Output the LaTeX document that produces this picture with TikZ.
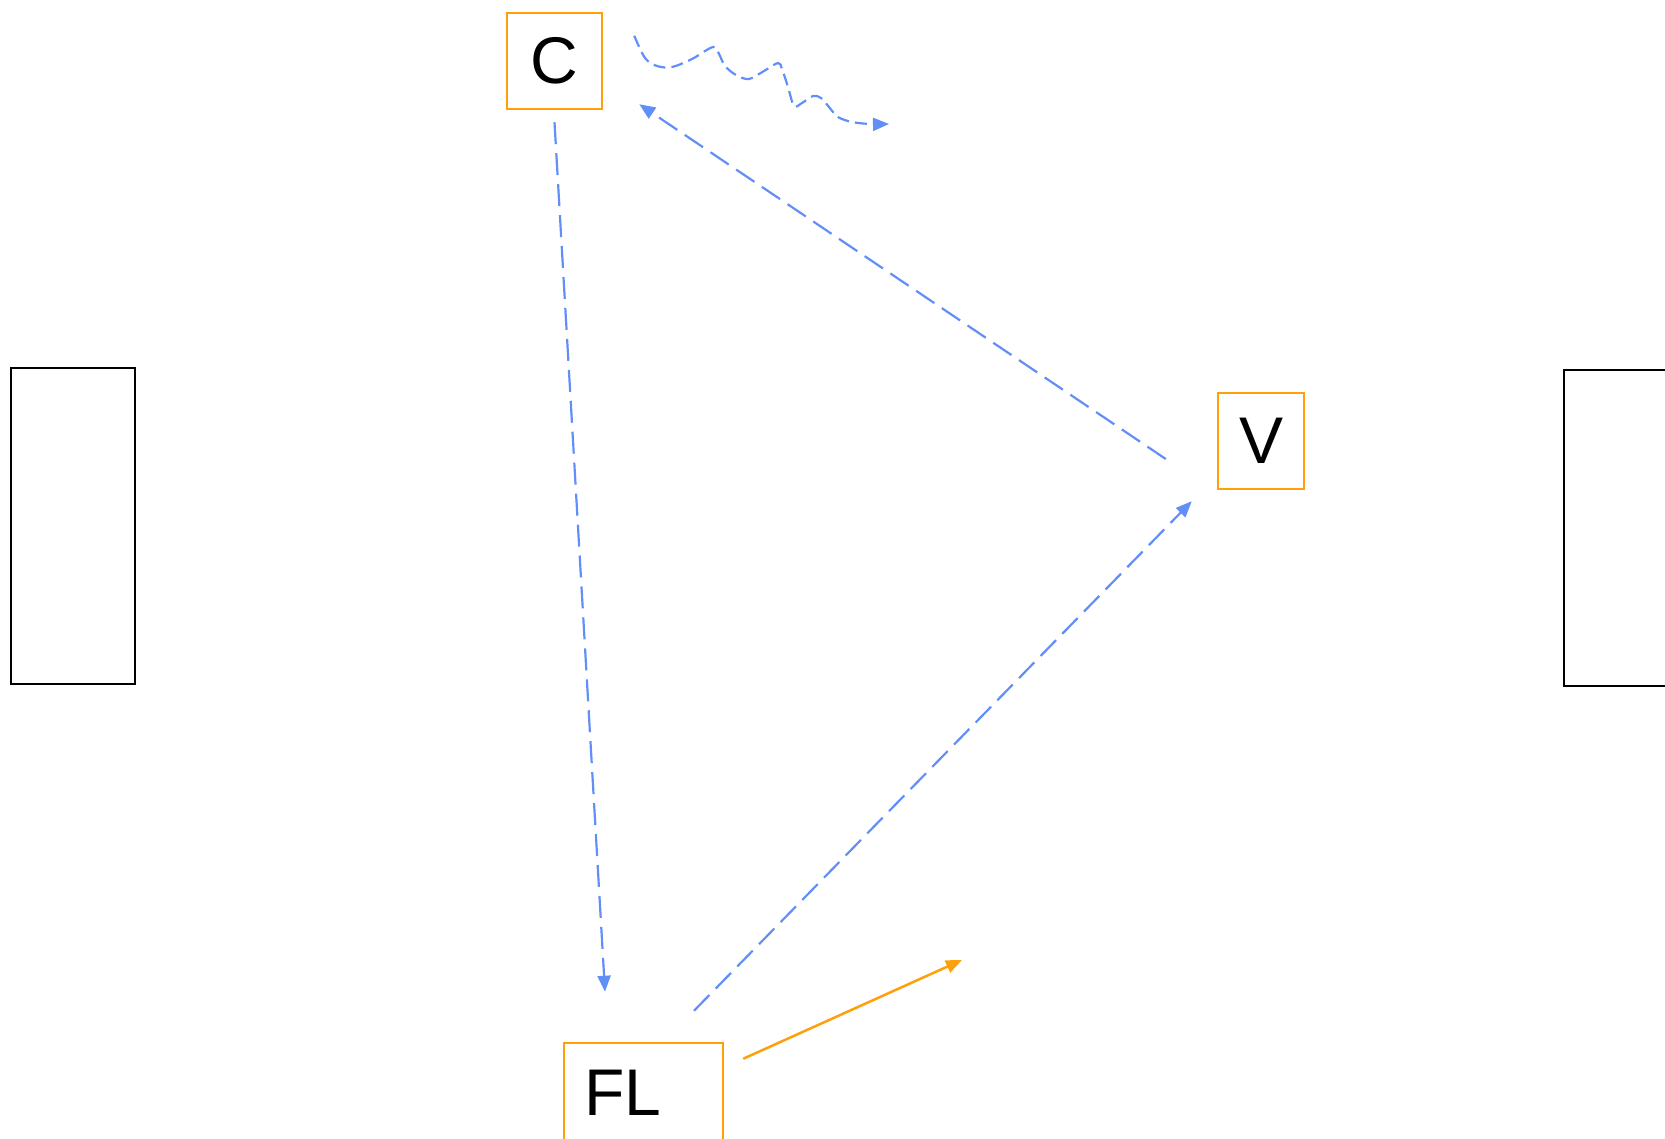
\documentclass[tikz,border=0pt]{standalone}
\usepackage{fontspec}
\setmainfont{Liberation Sans}
\usetikzlibrary{arrows.meta}
\definecolor{boxorange}{HTML}{FF9F0A}
\definecolor{linkblue}{HTML}{628EF8}
\tikzstyle{wall} = [
    rectangle,
    minimum width=124pt,
    minimum height=316pt,
    line width=2.5pt,
    draw=black
]
\tikzstyle{particle} = [
    rectangle,
    minimum height=96pt,
    inner sep=0pt,
    line width=2.5pt,
    draw=boxorange,
    font=\fontsize{66}{72}\selectfont
]
\tikzstyle{flow} = [
    line width=2.2pt,
    color=linkblue,
    dash pattern=on 22pt off 9pt,
    -{Triangle[length=16pt,width=13pt]}
]
\tikzstyle{wave} = [
    flow,
    dash pattern=on 12pt off 6pt
]
\tikzstyle{arrow} = [
    line width=2.5pt,
    color=boxorange,
    -{Triangle[length=16pt,width=13pt]}
]

\begin{document}
\begin{tikzpicture}[x=1pt, y=-1pt]

\clip (0,0) rectangle (1665,1139);

\node (leftwall) [wall] at (73,526) {};

\node (rightwall) [wall] at (1626,528) {};

\node (C) [particle, minimum width=95pt] at (554.5,61) {C};

\node (V) [particle, minimum width=86pt] at (1261,441) {V};

\node (FL) [particle, text width=119pt, align=left, inner xsep=20pt,
    text height=72pt, text depth=45pt, anchor=base]
at (643.5,1115) {FL};

\coordinate (photon) at (889,124);
\coordinate (recoil) at (962,960);

\draw [flow] ([yshift=-12pt]C.south) -- ([xshift=-38.5pt,yshift=50pt]FL.north);
\draw [flow] ([xshift=-51pt,yshift=-18pt]V.west) -- ([xshift=36pt,yshift=6pt]C.south east);
\draw [flow] ([xshift=50.5pt,yshift=31pt]FL.north) -- ([xshift=-25pt,yshift=-11pt]V.south west);
\draw [arrow] ([xshift=19pt,yshift=-17pt]FL.north east) -- (recoil);
\draw [wave] plot [smooth, tension=0.55] coordinates {
    ([xshift=31pt,yshift=-24pt]C.north east) (645,58) (657,66) (672,67) (692,59)
    (713,47) (719,54) (725,66) (736,75) (749,79) (764,71) (778,63) (782,69)
    (788,87) (794,106) (802,103) (813,96) (821,98) (829,107) (838,117)
    (852,122) (870,124) (photon)};

\end{tikzpicture}
\end{document}
